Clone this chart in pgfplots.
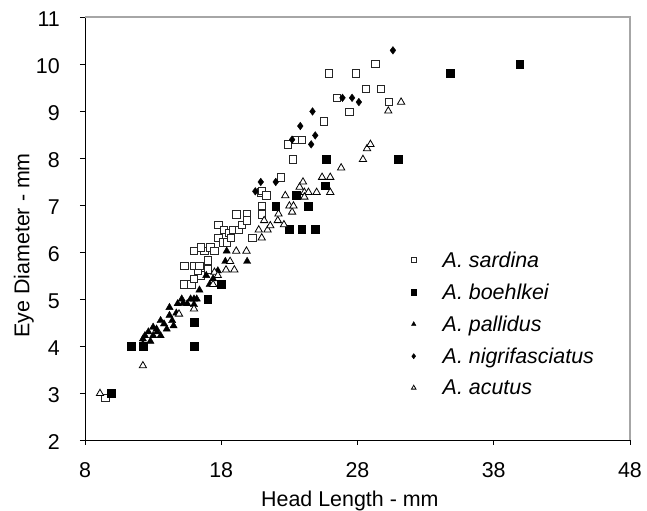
\documentclass[border=0pt]{standalone}
\usepackage{pgfplots}
\pgfplotsset{compat=1.18}
\usepackage{fontspec}
\setmainfont{Liberation Sans}
\newcommand{\lf}{\fontsize{21.5}{25}\selectfont}
\begin{document}
\begin{tikzpicture}
\begin{axis}[
  scale only axis,
  width=545bp, height=423bp,
  xmin=8, xmax=48, ymin=2, ymax=11,
  xtick={8,18,28,38,48},
  ytick={2,3,4,5,6,7,8,9,10,11},
  axis x line*=bottom, axis y line*=left,
  axis line style={-, black, line width=0.8bp},
  tick align=outside, tick pos=left,
  major tick length=5bp,
  tick style={black, line width=0.8bp},
  /pgf/number format/assume math mode=true,
  tick label style={font=\lf},
  xticklabel style={anchor=base, yshift=-33bp},
  yticklabel style={anchor=east, inner sep=0pt, xshift=-20bp, yshift=-2bp},
  xlabel={Head Length - mm},
  ylabel={Eye Diameter - mm},
  label style={font=\lf},
  xlabel style={at={(axis description cs:0.486,-0.158)}, anchor=base},
  ylabel style={at={(axis description cs:-0.112,0.46)}, anchor=center},
  legend style={at={(axis description cs:0.590,0.455)}, anchor=north west,
    draw=none, fill=none, font=\lf\itshape, row sep=11bp,
    cells={anchor=west}},
  legend image code/.code={\path[draw=none,fill=none] (-4bp,0bp) -- (27bp,0bp); \draw[#1, mark size=2.6bp] plot coordinates {(0bp,0bp)};},
  clip=false,
]
\draw[gray!70, line width=1.2bp] (rel axis cs:0,1) -- (rel axis cs:1,1) -- (rel axis cs:1,0);
\path (rel axis cs:0,0) ++(-85bp,-71bp) coordinate (bbA);
\path (rel axis cs:1,1) ++(17bp,17bp) coordinate (bbB);

\addplot[only marks, mark=square*, mark size=3.7bp, mark options={fill=white, draw=black!85, line width=0.8bp}] coordinates {
(9.5,2.9) (15.3,5.31) (15.8,5.31) (16.0,5.43) (16.5,5.5) (16.3,5.6) (15.3,5.71) (16.0,5.71) (16.4,5.71)
(17.0,5.82) (17.0,5.63) (16.0,6.02) (16.75,6.02) (16.5,6.1) (17.2,6.1) (17.5,6.02) (17.8,6.3) (17.8,6.58)
(18.1,6.2) (18.4,6.2) (18.2,6.47) (18.6,6.4) (18.9,6.47) (18.7,6.3) (19.3,6.47) (19.5,6.58) (19.1,6.8)
(19.9,6.8) (19.9,6.67) (20.3,6.3) (21.0,6.98) (21.0,6.8) (20.9,7.27) (21.0,7.3) (21.3,7.2) (22.37,7.59)
(22.9,8.29) (23.5,8.39) (23.9,8.39) (23.25,7.97) (25.55,8.78) (26.5,9.28) (27.4,8.98) (25.9,9.8) (27.9,9.8)
(28.6,9.47) (29.3,10.0) (29.7,9.47) (30.3,9.19)
};
\addlegendentry{A. sardina}

\addplot[only marks, mark=square*, mark size=3.9bp, mark options={fill=black, draw=black}] coordinates {
(9.9,3.0) (11.4,4.0) (12.25,4.0) (16.0,4.0) (16.0,4.5) (17.0,5.0) (18.0,5.31) (22.0,6.98) (23.0,6.49)
(23.9,6.49) (24.9,6.49) (23.5,7.2) (24.4,6.98) (25.6,7.41) (25.7,7.97) (31.0,7.97) (34.8,9.8) (39.9,10.0)
};
\addlegendentry{A. boehlkei}

\addplot[only marks, mark=triangle*, mark size=4.2bp, mark options={fill=black, draw=black}] coordinates {
(12.25,4.04) (12.25,4.15) (12.4,4.22) (12.65,4.3) (13.0,4.22) (13.25,4.36) (13.55,4.22) (13.55,4.54)
(13.8,4.47) (14.0,4.36) (14.2,4.65) (14.4,4.54) (14.5,4.43) (14.7,4.7) (14.2,4.82) (14.8,4.9) (15.1,5.0)
(15.2,4.91) (15.5,4.9) (15.75,5.0) (16.0,5.0) (16.2,5.0) (16.0,4.88) (16.4,5.19) (16.9,5.5) (17.4,5.43)
(17.15,5.31) (17.9,5.31) (18.3,5.8) (18.4,6.02) (19.9,5.8) (17.75,5.6) (12.8,4.1) (13.3,4.3) (13.0,4.4)
};
\addlegendentry{A. pallidus}

\addplot[only marks, mark=diamond*, mark size=3.8bp, mark options={fill=black, draw=black}] coordinates {
(20.5,7.29) (20.9,7.49) (22.0,7.49) (23.2,8.39) (23.8,8.68) (24.7,8.99) (24.6,8.29) (24.9,8.48)
(26.9,9.28) (27.6,9.28) (28.1,9.19) (30.6,10.29)
};
\addlegendentry{A. nigrifasciatus}

\addplot[only marks, mark=triangle*, mark size=4.2bp, mark options={fill=white, draw=black, line width=0.8bp}] coordinates {
(9.1,2.99) (12.25,3.58) (16.0,4.79) (14.9,4.68) (17.4,5.31) (17.5,5.57) (17.75,5.5) (18.35,5.62)
(18.65,5.8) (18.96,5.62) (19.1,6.02) (19.85,6.02) (20.75,6.47) (20.97,6.3) (21.15,6.67) (21.4,6.47)
(21.6,6.56) (22.15,6.67) (22.2,6.81) (22.6,6.58) (22.7,7.2) (23.0,6.98) (23.2,6.85) (23.3,6.98)
(23.75,7.38) (24.0,7.49) (24.1,7.27) (24.4,7.27) (24.1,7.17) (25.0,7.27) (25.4,7.59) (26.0,7.59)
(26.0,7.27) (26.8,7.79) (28.4,7.97) (28.7,8.2) (28.95,8.29) (30.26,9.0) (31.2,9.19)
};
\addlegendentry{A. acutus}
\end{axis}
\pgfresetboundingbox
\path[use as bounding box] (bbA) rectangle (bbB);
\end{tikzpicture}
\end{document}
